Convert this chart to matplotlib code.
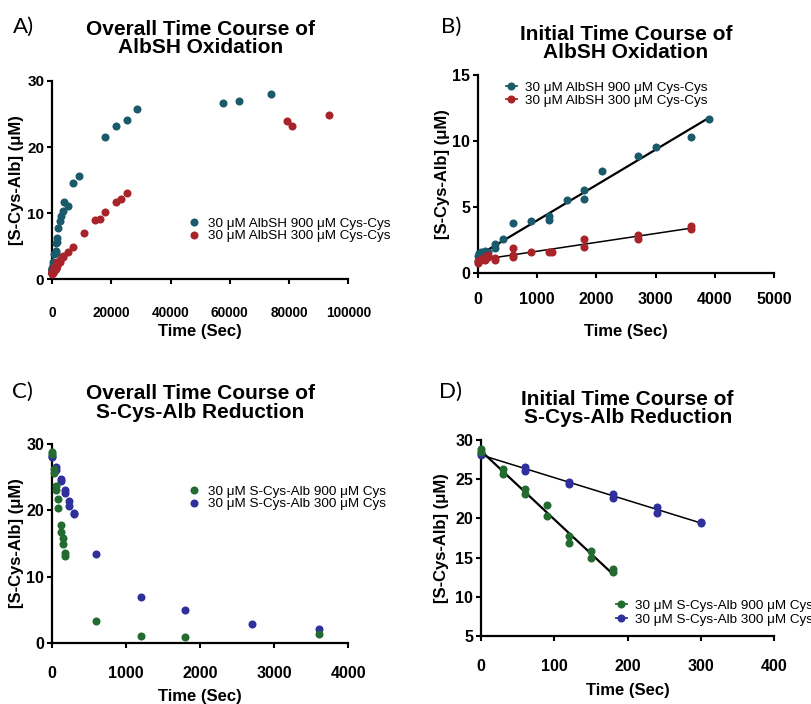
import numpy as np
import matplotlib
matplotlib.use("Agg")
import matplotlib.pyplot as plt
from matplotlib.lines import Line2D

# ---------------- data ----------------
# Panel B (initial AlbSH oxidation), seconds / uM
b_t900 = [0, 0, 30, 30, 60, 60, 120, 120, 180, 300, 300, 420, 600, 900, 1200, 1200,
          1500, 1800, 1800, 2100, 2700, 3000, 3600, 3900]
b_y900 = [0.9, 1.3, 1.2, 1.5, 1.3, 1.6, 1.5, 1.7, 1.6, 2.2, 1.9, 2.6, 3.78, 3.98, 4.34, 4.03,
          5.55, 6.3, 5.6, 7.76, 8.87, 9.55, 10.3, 11.7]
b_t300 = [0, 0, 60, 60, 120, 120, 180, 180, 300, 300, 600, 600, 600, 900, 1200, 1260,
          1800, 1800, 2700, 2700, 3600, 3600]
b_y300 = [0.76, 0.9, 1.0, 1.1, 1.26, 1.0, 1.38, 1.2, 1.13, 1.0, 1.89, 1.39, 1.25, 1.6, 1.64, 1.6,
          2.62, 2.0, 2.9, 2.6, 3.55, 3.35]

# Panel A (overall AlbSH oxidation): later time points added to the initial ones
a_late_t900 = [5400, 7200, 9000, 18000, 21600, 25200, 28800, 57600, 63000, 73800]
a_late_y900 = [11.1, 14.5, 15.6, 21.5, 23.2, 24.1, 25.7, 26.6, 26.9, 28.1]
a_late_t300 = [5400, 7200, 10800, 14400, 16200, 18000, 21600, 23400, 25200, 79200, 81000, 93600]
a_late_y300 = [4.2, 4.9, 6.95, 9.0, 9.1, 10.2, 11.7, 12.2, 13.0, 23.9, 23.2, 24.8]

# Panel D (initial S-Cys-Alb reduction)
d_t900 = [0, 0, 30, 30, 60, 60, 90, 90, 120, 120, 150, 150, 180, 180]
d_y900 = [28.9, 28.5, 26.3, 25.7, 23.75, 23.1, 21.75, 20.35, 17.75, 16.8, 15.8, 15.0, 13.6, 13.1]
d_t300 = [0, 0, 60, 60, 120, 120, 180, 180, 240, 240, 300, 300]
d_y300 = [28.1, 28.3, 26.5, 26.1, 24.7, 24.4, 23.1, 22.6, 21.5, 20.7, 19.6, 19.4]

# Panel C (overall S-Cys-Alb reduction): later time points
c_late_t900 = [600, 1200, 1800, 3600]
c_late_y900 = [3.3, 1.05, 0.8, 1.3]
c_late_t300 = [600, 1200, 1800, 2700, 3600]
c_late_y300 = [13.4, 6.9, 4.9, 2.8, 2.07]

lab_a900 = "30 μM AlbSH 900 μM Cys-Cys"
lab_a300 = "30 μM AlbSH 300 μM Cys-Cys"
lab_c900 = "30 μM S-Cys-Alb 900 μM Cys"
lab_c300 = "30 μM S-Cys-Alb 300 μM Cys"

TEAL = "#1b5a6b"
RED = "#a8232a"
GREEN = "#246b31"
BLUE = "#30309c"
MS = 5.8

# ---------------- style ----------------
plt.rcParams['font.family'] = ['Liberation Sans', 'DejaVu Sans']
W, H = 812, 704
fig = plt.figure(figsize=(W / 100, H / 100), dpi=100)


def fx(px):
    return px / W


def fy(py):
    return (H - py) / H


def make_ax(left, right, top, bottom):
    return fig.add_axes([fx(left), fy(bottom), fx(right) - fx(left), fy(top) - fy(bottom)])


def style(ax, xlim, ylim, xticks, yticks, xpad, xsize, ysize):
    ax.set_xlim(*xlim)
    ax.set_ylim(*ylim)
    ax.set_xticks(xticks)
    ax.set_yticks(yticks)
    for s in ['top', 'right']:
        ax.spines[s].set_visible(False)
    for s in ['left', 'bottom']:
        ax.spines[s].set_linewidth(1.6)
    ax.tick_params(axis='both', length=3.5, width=1.5)
    ax.tick_params(axis='x', pad=xpad, labelsize=xsize)
    ax.tick_params(axis='y', pad=2, labelsize=ysize)
    for lab in ax.get_xticklabels() + ax.get_yticklabels():
        lab.set_fontweight('bold')


def pts(ax, t, y, c):
    ax.plot(t, y, 'o', color=c, ms=MS, mew=0, clip_on=False, zorder=3)


def fit(ax, t, y, lw):
    k, b0 = np.polyfit(t, y, 1)
    xs = np.array([min(t), max(t)])
    ax.plot(xs, k * xs + b0, color='black', lw=lw, zorder=2, clip_on=False)


def legend(ax, handles, labels, left_px, top_px, spacing):
    ax.legend(handles, labels, loc='upper left',
              bbox_to_anchor=(fx(left_px), fy(top_px)), bbox_transform=fig.transFigure,
              frameon=False, borderpad=0, borderaxespad=0, handlelength=0.8,
              handletextpad=0.6, labelspacing=spacing, prop={'size': 9.7})


def title(ax, txt, pad):
    ax.set_title(txt, fontsize=15, fontweight='bold', pad=pad, linespacing=0.98)


def labels(ax, xl, yl):
    ax.set_xlabel("Time (Sec)", fontsize=12, fontweight='bold', va='center')
    ax.set_ylabel("[S-Cys-Alb] (μM)", fontsize=12, fontweight='bold', va='center')
    ax.xaxis.set_label_coords(*xl)
    ax.yaxis.set_label_coords(*yl)


def letter(txt, x, y):
    fig.text(fx(x), fy(y), txt, fontsize=16, family=['Lato', 'DejaVu Sans'],
             va='baseline', ha='left')


# ---------------- Panel A ----------------
axA = make_ax(52, 348.3, 81, 279.3)
a_t900 = b_t900 + a_late_t900
a_y900 = b_y900 + a_late_y900
a_t300 = b_t300 + a_late_t300
a_y300 = b_y300 + a_late_y300
pts(axA, a_t900, a_y900, TEAL)
pts(axA, a_t300, a_y300, RED)
style(axA, (0, 100000), (0, 30), np.arange(0, 100001, 20000), [0, 10, 20, 30], 16, 9.8, 11)
title(axA, "Overall Time Course of\nAlbSH Oxidation", 20)
labels(axA, (0.5, -0.261), (-0.12, 0.5))
hA = [Line2D([], [], ls='none', marker='o', ms=MS, mew=0, color=c) for c in (TEAL, RED)]
legend(axA, hA, [lab_a900, lab_a300], 188.7, 217.4, 0.0)
letter("A)", 13, 33)

# ---------------- Panel B ----------------
axB = make_ax(477.7, 774.3, 75, 273.3)
fit(axB, b_t900, b_y900, 1.6)
fit(axB, b_t300, b_y300, 1.1)
pts(axB, b_t900, b_y900, TEAL)
pts(axB, b_t300, b_y300, RED)
style(axB, (0, 5000), (0, 15), np.arange(0, 5001, 1000), [0, 5, 10, 15], 10, 11.5, 11.5)
title(axB, "Initial Time Course of\nAlbSH Oxidation", 12)
labels(axB, (0.5, -0.291), (-0.118, 0.5))
hB = [Line2D([], [], ls='-', lw=1.3, marker='o', ms=MS, mew=0, color=c) for c in (TEAL, RED)]
legend(axB, hB, [lab_a900, lab_a300], 506, 81.4, 0.05)
letter("B)", 441, 33)

# ---------------- Panel C ----------------
axC = make_ax(51.7, 348.3, 444.3, 642.7)
c_t900 = d_t900 + c_late_t900
c_y900 = d_y900 + c_late_y900
c_t300 = d_t300 + c_late_t300
c_y300 = d_y300 + c_late_y300
pts(axC, c_t300, c_y300, BLUE)
pts(axC, c_t900, c_y900, GREEN)
style(axC, (0, 4000), (0, 30), np.arange(0, 4001, 1000), [0, 10, 20, 30], 13, 11.5, 11.5)
title(axC, "Overall Time Course of\nS-Cys-Alb Reduction", 19)
labels(axC, (0.5, -0.271), (-0.118, 0.5))
hC = [Line2D([], [], ls='none', marker='o', ms=MS, mew=0, color=c) for c in (GREEN, BLUE)]
legend(axC, hC, [lab_c900, lab_c300], 188.7, 485.4, 0.0)
letter("C)", 12, 398)

# ---------------- Panel D ----------------
axD = make_ax(481, 774.3, 440, 636)
fit(axD, d_t900, d_y900, 1.6)
fit(axD, d_t300, d_y300, 1.1)
pts(axD, d_t300, d_y300, BLUE)
pts(axD, d_t900, d_y900, GREEN)
style(axD, (0, 400), (5, 30), np.arange(0, 401, 100), [5, 10, 15, 20, 25, 30], 13, 11.5, 11.5)
title(axD, "Initial Time Course of\nS-Cys-Alb Reduction", 12)
labels(axD, (0.5, -0.278), (-0.135, 0.5))
hD = [Line2D([], [], ls='-', lw=1.3, marker='o', ms=MS, mew=0, color=c) for c in (GREEN, BLUE)]
legend(axD, hD, [lab_c900, lab_c300], 616, 599.4, 0.1)
letter("D)", 439, 398)

fig.savefig("out.png", dpi=100)
